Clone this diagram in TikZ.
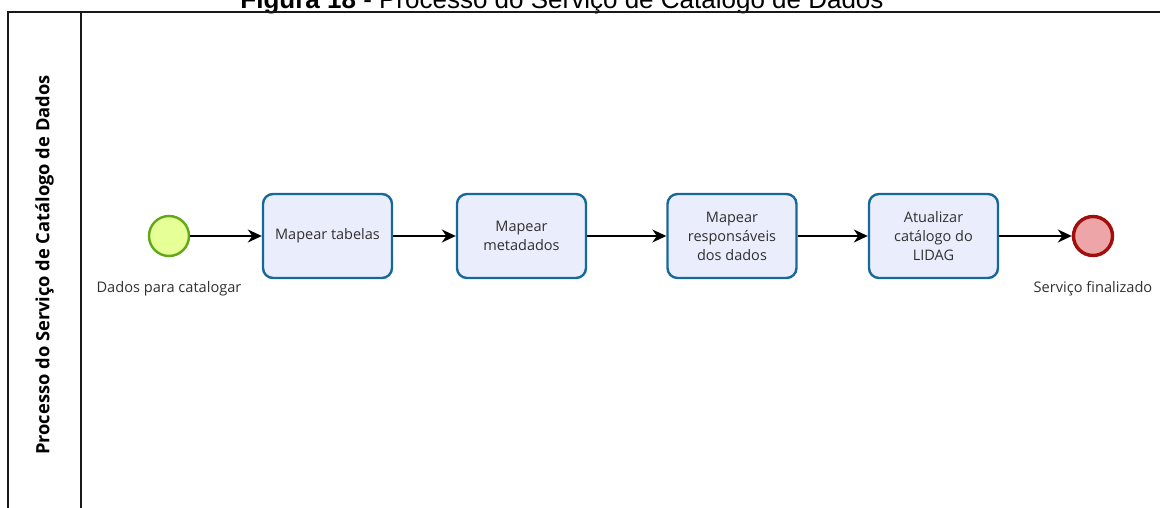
\documentclass[tikz,border=0pt]{standalone}
\usepackage{fontspec}
\setmainfont{Open Sans}
\newfontfamily\captionfont{Liberation Sans}
\usetikzlibrary{arrows.meta}

\definecolor{startfill}{HTML}{E6FF97}
\definecolor{startdraw}{HTML}{62A716}
\definecolor{taskfill}{HTML}{E9EDFC}
\definecolor{taskdraw}{HTML}{17689A}
\definecolor{endfill}{HTML}{EEA5A8}
\definecolor{enddraw}{HTML}{A10E0E}
\definecolor{labeltext}{HTML}{303030}

\tikzset{
  poolline/.style={draw=black!90, line width=1.6pt},
  lanetitle/.style={rotate=90, inner sep=0pt, text=black,
    font=\bfseries\fontsize{18.3}{20}\selectfont},
  taskbox/.style={draw=taskdraw, fill=taskfill, line width=2.4pt,
    rounded corners=10pt, minimum width=129pt, minimum height=84pt,
    align=center, text=labeltext, inner sep=2pt,
    font=\fontsize{14.5}{19}\selectfont},
  startevent/.style={circle, draw=startdraw, fill=startfill, line width=2.4pt,
    minimum size=40pt, inner sep=0pt},
  endevent/.style={circle, draw=enddraw, fill=endfill, line width=3.4pt,
    minimum size=39pt, inner sep=0pt},
  eventlabel/.style={anchor=base, inner sep=0pt, text=labeltext,
    font=\fontsize{14.6}{19}\selectfont},
  flow/.style={draw=black, line width=1.5pt,
    -{Stealth[length=14pt, width=13pt, inset=4.5pt]}},
}

\begin{document}
\begin{tikzpicture}[x=1pt, y=-1pt]
  \useasboundingbox (0,0) rectangle (1160,508);

  % caption above the pool (its upper part falls outside the page)
  \node[anchor=base, inner sep=0pt,
        font=\captionfont\fontsize{26}{28}\selectfont] (caption) at (562,8.5)
        {\textbf{Figura 18} - Processo do Serviço de Catálogo de Dados};

  % pool frame and lane header
  \draw[poolline] (1160,12) -- (8,12) -- (8,508);
  \draw[poolline] (81,12) -- (81,508);
  \node[lanetitle] (lane) at (44.5,265) {Processo do Serviço de Catálogo de Dados};

  % events and tasks
  \node[startevent] (start) at (169,236) {};
  \node[eventlabel] (startlbl) at (169,292) {Dados para catalogar};

  \node[taskbox] (t1) at (327.5,236) {Mapear tabelas};
  \node[taskbox] (t2) at (521.5,236) {Mapear\\metadados};
  \node[taskbox] (t3) at (732,236) {Mapear\\responsáveis\\dos dados};
  \node[taskbox] (t4) at (933.5,236) {Atualizar\\catálogo do\\LIDAG};

  \node[endevent] (finish) at (1093,236) {};
  \node[eventlabel] (finishlbl) at (1093,292) {Serviço finalizado};

  % sequence flows
  \draw[flow] (start) -- (t1);
  \draw[flow] (t1) -- (t2);
  \draw[flow] (t2) -- (t3);
  \draw[flow] (t3) -- (t4);
  \draw[flow] (t4) -- (finish);
\end{tikzpicture}
\end{document}
